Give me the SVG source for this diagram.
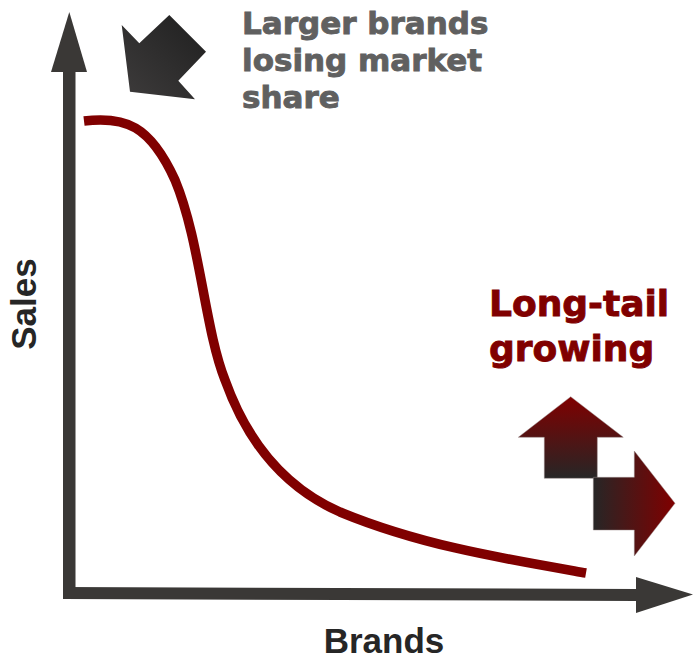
<svg xmlns="http://www.w3.org/2000/svg" width="693" height="662" viewBox="0 0 693 662">
<style>
.axis{fill:#3a3836}
.lbl{font-family:"Liberation Sans",Arial,sans-serif;font-weight:bold;fill:#262626}
.note{font-family:"DejaVu Sans","Liberation Sans",sans-serif;font-weight:bold;fill:#606060;stroke:#606060;stroke-width:0.9}
.red{font-family:"DejaVu Sans","Liberation Sans",sans-serif;font-weight:bold;fill:#800000;stroke:#800000;stroke-width:0.9}
.curve{fill:none;stroke:#800000;stroke-width:9.5}
.outl{stroke:#9a8a8a;stroke-width:0.8;stroke-opacity:0.6}
</style>
<defs>
<linearGradient id="gDark" x1="0" y1="1" x2="1" y2="0">
<stop offset="0" stop-color="#3e3c3c"/>
<stop offset="1" stop-color="#1f1f1f"/>
</linearGradient>
<linearGradient id="gUp" x1="0" y1="0" x2="0" y2="1">
<stop offset="0" stop-color="#800000"/>
<stop offset="1" stop-color="#262626"/>
</linearGradient>
<linearGradient id="gRight" x1="0" y1="0" x2="1" y2="0">
<stop offset="0" stop-color="#262626"/>
<stop offset="1" stop-color="#800000"/>
</linearGradient>
</defs>
<g id="connectors">
<g id="y-axis">
<rect class="axis" x="63" y="70" width="12.5" height="529"/>
<polygon class="axis" points="69.3,12 87,72 51,72"/>
</g>
<g id="x-axis">
<polygon class="axis" points="63,587 637,589 637,601 63,599"/>
<polygon class="axis" points="636,577 693,594.5 636,613"/>
</g>
</g>
<g id="curve">
<path class="curve" d="M84,121 C125,116 150,125 175,180 C200,240 205,330 225,380 C250,450 290,490 340,512 C420,545 500,558 586,573"/>
</g>
<g id="losing-arrow">
<polygon fill="url(#gDark)" points="130,91.7 121.7,25 139.3,43.3 169.3,15 206,51.7 178.3,80.7 195,99.3"/>
</g>
<g id="growth-arrows">
<polygon class="outl" fill="url(#gUp)" points="570.7,396.7 623.3,437.3 597.3,437.3 597.3,478.3 544.3,478.3 544.3,437.3 518.3,437.3"/>
<polygon class="outl" fill="url(#gRight)" points="593.3,477.3 634.3,477.3 634.3,451 675,503.3 634.3,556 634.3,530 593.3,530"/>
</g>
<g id="label-larger">
<text class="note" font-size="31"><tspan x="242" y="34">Larger brands</tspan><tspan x="242" y="71">losing market</tspan><tspan x="242" y="108">share</tspan></text>
</g>
<g id="label-longtail">
<text class="red" font-size="36"><tspan x="489" y="316">Long-tail</tspan><tspan x="489" y="361">growing</tspan></text>
</g>
<g id="label-sales">
<text class="lbl" font-size="35" transform="translate(36,304) rotate(-90)" text-anchor="middle">Sales</text>
</g>
<g id="label-brands">
<text class="lbl" font-size="35" x="384" y="653" text-anchor="middle">Brands</text>
</g>
</svg>
